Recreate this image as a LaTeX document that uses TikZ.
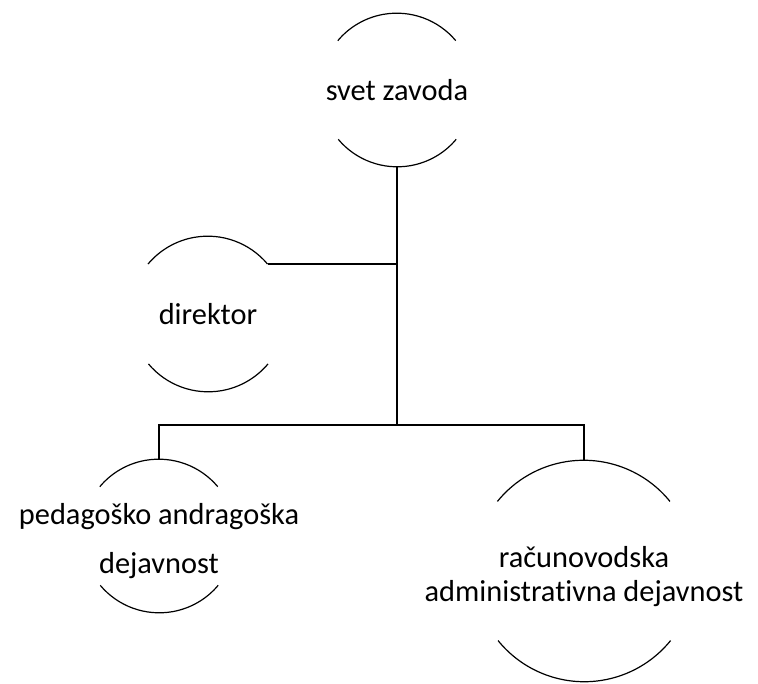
\documentclass[tikz,border=0pt]{standalone}
\usepackage{fontspec}
\setmainfont{Carlito}[Ligatures=NoCommon]

\begin{document}
\begin{tikzpicture}[x=1bp, y=1bp, line width=1.2bp,
        ring/.style = {circle, minimum size=#1, inner sep=0pt, outer sep=0pt},
        lbl/.style = {align=center, inner sep=0pt, font=\fontsize{30.5}{34}\selectfont}]
        \useasboundingbox (0,0) rectangle (758,684);
        % circles (only top and bottom arcs are shown)
        \node[ring=154] (svet) at (397,594) {};
        \node[ring=156] (dir) at (208,370) {};
        \node[ring=154] (ped) at (159,148) {};
        \node[ring=222] (rac) at (584,113) {};
        \draw (svet.40) arc[start angle=40, end angle=140, radius=77];
        \draw (svet.220) arc[start angle=220, end angle=320, radius=77];
        \draw (dir.40) arc[start angle=40, end angle=140, radius=78];
        \draw (dir.220) arc[start angle=220, end angle=320, radius=78];
        \draw (ped.40) arc[start angle=40, end angle=140, radius=77];
        \draw (ped.220) arc[start angle=220, end angle=320, radius=77];
        \draw (rac.39) arc[start angle=39, end angle=141, radius=111];
        \draw (rac.219) arc[start angle=219, end angle=321, radius=111];
        % labels
        \node[lbl] (svett) at (svet) {svet zavoda};
        \node[lbl] (dirt) at (dir) {direktor};
        \node[lbl] (pedt) at ([yshift=-5]ped) {pedagoško andragoška\\[16pt]dejavnost};
        \node[lbl] (ract) at ([yshift=-6]rac) {računovodska\\administrativna dejavnost};
        % connectors
        \coordinate (bar) at (397,259);
        \draw (svet.south) -- (bar);
        \draw (dir.40) -- (dir.40 -| svet.south);
        \draw (ped.north) |- (bar) -| (rac.north);
    \end{tikzpicture}
\end{document}
